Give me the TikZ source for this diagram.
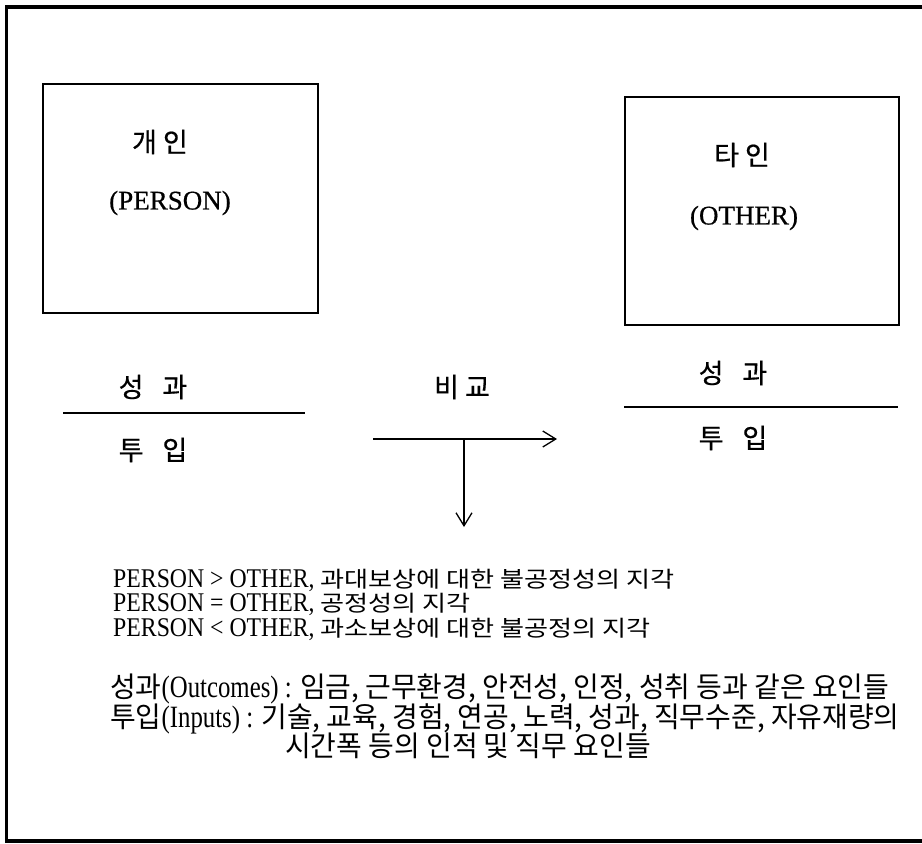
\documentclass[tikz,border=0pt]{standalone}
\usepackage{fontspec}
\setmainfont[FakeStretch=0.8]{Liberation Serif}
\newfontfamily\latu[FakeStretch=0.88]{Liberation Serif}
\newfontfamily\kru[Scale=0.82,FakeStretch=1.18]{Noto Sans CJK KR}
\newfontfamily\krl[Scale=0.92,FakeStretch=0.98]{Noto Sans CJK KR}
\newfontfamily\krbox[FakeBold=0.6]{Noto Sans CJK KR}
\newfontfamily\latbox[FakeBold=0.6]{Liberation Serif}
\usetikzlibrary{arrows.meta}
\begin{document}
\begin{tikzpicture}[x=1pt,y=-1pt,
  frame/.style={line width=3.5pt},
  boxstyle/.style={draw,line width=1.6pt},
  fracline/.style={line width=1.3pt},
  arr/.style={line width=1.3pt,-{Straight Barb[length=13pt,width=16pt,line width=1.3pt]}},
  boxlabel/.style={inner sep=0pt,font=\fontsize{27}{30}\selectfont},
  body/.style={inner sep=0pt,anchor=base west,text height=16pt,text depth=4pt,font=\fontsize{27}{30}\selectfont\latu},
  bodyb/.style={inner sep=0pt,anchor=base west,text height=21pt,text depth=5pt,font=\fontsize{31}{34}\selectfont}]
\useasboundingbox (0,0) rectangle (922,844);
\clip (0,0) rectangle (922,844);
% outer frame
\coordinate (ftr) at (940,7);
\coordinate (ftl) at (6.5,7);
\coordinate (fbl) at (6.5,841);
\coordinate (fbr) at (940,841);
\draw[frame] (ftr) -- (ftl) -- (fbl) -- (fbr);
% boxes
\node[boxstyle,minimum width=275pt,minimum height=229pt,anchor=north west] (pbox) at (42,83) {};
\node[boxstyle,minimum width=274pt,minimum height=228pt,anchor=north west] (obox) at (624,96) {};
\node[boxlabel] (pk) at (160,142) {\krbox 개 인};
\node[boxlabel] (pe) at (170,203) {\latbox (PERSON)};
\node[boxlabel] (ok) at (742,155) {\krbox 타 인};
\node[boxlabel] (oe) at (744,218) {\latbox (OTHER)};
% fractions
\node[boxlabel] (pn) at (153,387) {\krbox 성\hspace{0.7em}과};
\node[boxlabel] (pd) at (153,450) {\krbox 투\hspace{0.7em}입};
\coordinate (pl1) at (63,413);
\coordinate (pl2) at (305,413);
\draw[fracline] (pl1) -- (pl2);
\node[boxlabel] (on) at (733,373) {\krbox 성\hspace{0.7em}과};
\node[boxlabel] (od) at (733,438) {\krbox 투\hspace{0.7em}입};
\coordinate (ol1) at (624,407);
\coordinate (ol2) at (898,407);
\draw[fracline] (ol1) -- (ol2);
% comparison
\node[boxlabel] (cmp) at (462,387) {\krbox 비 교};
\coordinate (hs) at (373,439);
\coordinate (he) at (557,439);
\coordinate (vs) at (464,439);
\coordinate (ve) at (464,527);
\draw[arr] (hs) -- (he);
\draw[arr] (vs) -- (ve);
% results
\node[body] (r1) at (113,587) {PERSON > OTHER, {\kru 과대보상에 대한 불공정성의 지각}};
\node[body] (r2) at (113,611.5) {PERSON = OTHER, {\kru 공정성의 지각}};
\node[body] (r3) at (113,636) {PERSON < OTHER, {\kru 과소보상에 대한 불공정의 지각}};
% definitions
\node[bodyb] (d1) at (110,697) {{\krl 성과}(Outcomes) : {\krl 임금, 근무환경, 안전성, 인정, 성취 등과 같은 요인들}};
\node[bodyb] (d2) at (110,727) {{\krl 투입}(Inputs) : {\krl 기술, 교육, 경험, 연공, 노력, 성과, 직무수준, 자유재량의}};
\node[bodyb] (d3) at (285,756) {\krl 시간폭 등의 인적 및 직무 요인들};
\end{tikzpicture}
\end{document}
